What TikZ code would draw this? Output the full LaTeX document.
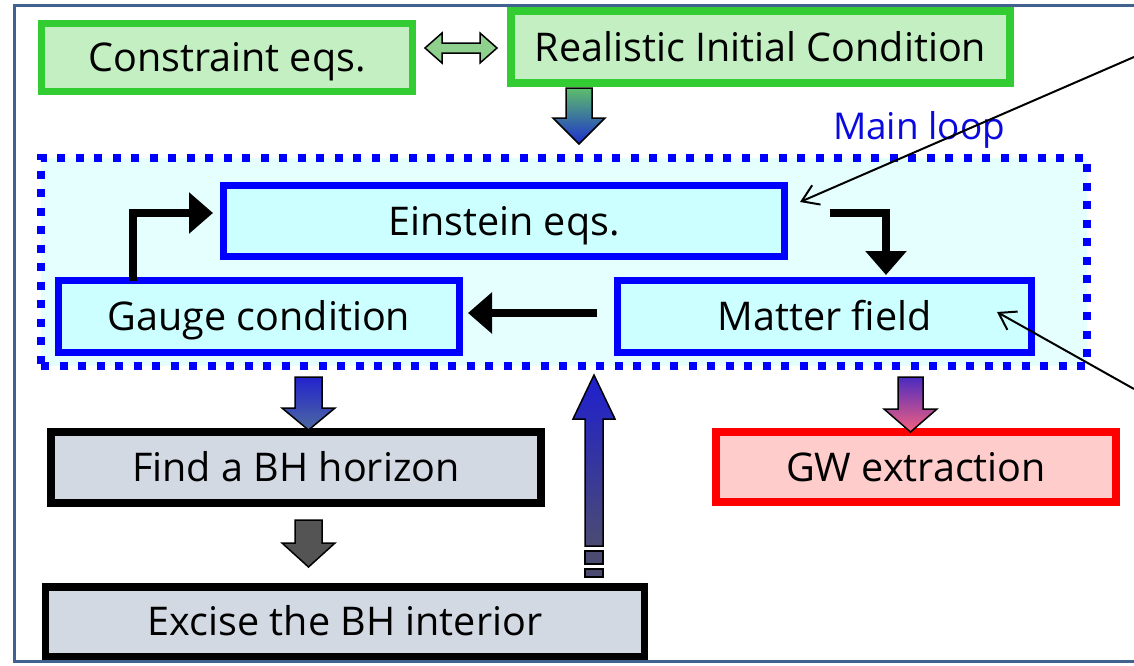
\documentclass[tikz,border=0pt]{standalone}
\usepackage{fontspec}
\setmainfont{Open Sans}
\usepackage{tikz}
\usetikzlibrary{arrows.meta,positioning,calc}

\definecolor{frameblue}{HTML}{41618F}
\definecolor{initgreen}{HTML}{33CC33}
\definecolor{initfill}{HTML}{C3EFC3}
\definecolor{dblgreen}{HTML}{8FD08F}
\definecolor{loopfill}{HTML}{E5FFFF}
\definecolor{boxfill}{HTML}{CCFFFF}
\definecolor{bhfill}{HTML}{D3D9E3}
\definecolor{gwfill}{HTML}{FFCCCC}
\definecolor{titleblue}{HTML}{0A0AE0}
\definecolor{greentop}{HTML}{5DBE6B}
\definecolor{deepblue}{HTML}{1C2FCE}
\definecolor{gaugetop}{HTML}{2323CC}
\definecolor{gaugebottom}{HTML}{4D6AA0}
\definecolor{uptop}{HTML}{1F1FD0}
\definecolor{upbottom}{HTML}{4B4B72}
\definecolor{gwtop}{HTML}{4B2BC0}
\definecolor{gwbottom}{HTML}{F5607F}

\newcommand{\vblock}[7]{%
  \path[#1] (#2-#6,#3) -- (#2+#6,#3) -- (#2+#6,#4) -- (#2+#7,#4) -- (#2,#5)
    -- (#2-#7,#4) -- (#2-#6,#4) -- cycle;}

\begin{document}
\begin{tikzpicture}[
    box/.style={rectangle, draw, line width=0.15cm, outer sep=0pt, align=center,
      font=\fontsize{22.5}{27}\selectfont, text height=16pt, text depth=0pt},
    initbox/.style={box, draw=initgreen, fill=initfill},
    loopbox/.style={box, draw=blue, fill=boxfill},
    bhbox/.style={box, draw=black, fill=bhfill},
    gwbox/.style={box, draw=red, fill=gwfill},
    mainloop/.style={rectangle, draw=blue, fill=loopfill, line width=0.16cm,
      dash pattern=on 0.16cm off 0.21cm, outer sep=0pt},
    looplabel/.style={text=titleblue, font=\fontsize{21}{25}\selectfont, anchor=base},
    flow/.style={-{Triangle[length=0.48cm,width=0.8cm]}, line width=0.16cm},
    note/.style={-{Straight Barb[length=0.32cm,width=0.42cm]}, line width=0.04cm},
    blockarrow/.style={draw=black, line width=0.03cm},
    frame/.style={draw=frameblue, line width=0.06cm}
]
    \useasboundingbox (0,0) rectangle (22.68,-13.3);
    \draw[frame] (22.68,-0.11) -- (0.29,-0.11) -- (0.29,-13.23) -- (22.68,-13.23);

    \node[mainloop, minimum width=20.92cm, minimum height=4.16cm] (loop) at (11.28,-5.24) {};
    \node[looplabel] (looptitle) at (18.38,-2.78) {Main loop};

    \node[initbox, minimum width=7.42cm, minimum height=1.36cm] (constraint) at (4.54,-1.15) {Constraint eqs.};
    \node[initbox, minimum width=9.98cm, minimum height=1.44cm] (init) at (15.21,-0.94) {Realistic Initial Condition};
    \node[loopbox, minimum width=11.22cm, minimum height=1.42cm] (einstein) at (10.08,-4.42) {Einstein eqs.};
    \node[loopbox, minimum width=8.02cm, minimum height=1.44cm] (gauge) at (5.18,-6.33) {Gauge condition};
    \node[loopbox, minimum width=8.28cm, minimum height=1.44cm] (matter) at (16.49,-6.33) {Matter field};
    \node[bhbox, minimum width=9.8cm, minimum height=1.42cm] (horizon) at (5.92,-9.35) {Find a BH horizon};
    \node[bhbox, minimum width=11.98cm, minimum height=1.39cm] (excise) at (6.9,-12.435) {Excise the BH interior};
    \node[gwbox, minimum width=8.0cm, minimum height=1.4cm] (gw) at (18.32,-9.34) {GW extraction};

    \path[blockarrow, fill=dblgreen] (8.50,-0.96) -- (8.84,-0.66) -- (8.84,-0.86) -- (9.60,-0.86)
      -- (9.60,-0.66) -- (9.94,-0.96) -- (9.60,-1.26) -- (9.60,-1.06) -- (8.84,-1.06)
      -- (8.84,-1.26) -- cycle;
    \vblock{blockarrow, top color=greentop, bottom color=deepblue}{11.58}{-1.76}{-2.36}{-2.88}{0.26}{0.52}
    \vblock{blockarrow, top color=gaugetop, bottom color=gaugebottom}{6.17}{-7.54}{-8.16}{-8.60}{0.27}{0.53}
    \vblock{blockarrow, fill=black!67}{6.17}{-10.40}{-10.86}{-11.34}{0.27}{0.53}
    \vblock{blockarrow, top color=gwtop, bottom color=gwbottom}{18.21}{-7.54}{-8.18}{-8.64}{0.25}{0.53}
    \vblock{blockarrow, top color=uptop, bottom color=upbottom}{11.88}{-10.92}{-8.38}{-7.50}{0.18}{0.42}
    \path[blockarrow, fill=upbottom] (11.70,-11.02) rectangle (12.06,-11.28);
    \path[blockarrow, fill=upbottom] (11.70,-11.38) rectangle (12.06,-11.54);

    \draw[flow] ([xshift=1.49cm]gauge.north west) |- ([shift={(-0.21cm,0.16cm)}]einstein.west);
    \draw[flow] ([shift={(0.91cm,0.17cm)}]einstein.east) -| ([shift={(1.23cm,0.11cm)}]matter.north);
    \draw[flow] ([shift={(-0.41cm,0.07cm)}]matter.west) -- ([shift={(0.17cm,0.07cm)}]gauge.east);

    \coordinate (noteA) at (22.68,-1.14);
    \coordinate (noteB) at (22.68,-7.78);
    \draw[note] (noteA) -- ([shift={(0.31cm,0.38cm)}]einstein.east);
    \draw[note] (noteB) -- ([shift={(-0.69cm,0.09cm)}]matter.east);
\end{tikzpicture}
\end{document}
